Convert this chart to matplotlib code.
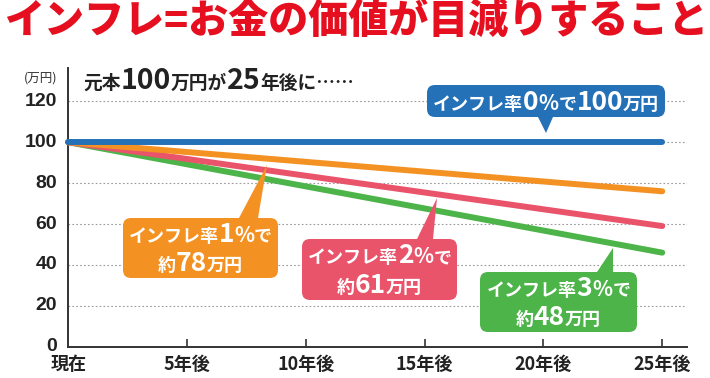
import matplotlib
matplotlib.use("Agg")
import matplotlib.pyplot as plt
from matplotlib.patches import FancyBboxPatch, Polygon
from matplotlib.offsetbox import TextArea, HPacker, VPacker, AnnotationBbox
from matplotlib.transforms import Affine2D, ScaledTranslation

plt.rcParams['font.family'] = ['Noto Sans CJK JP', 'DejaVu Sans']

# data
years = [0, 25]
rate_0 = [100, 100]
rate_1 = [100, 76]
rate_2 = [100, 59]
rate_3 = [100, 46]

xtick_pos = [0, 5, 10, 15, 20, 25]
xtick_labels = ['現在', '5年後', '10年後', '15年後', '20年後', '25年後']
ytick_pos = [0, 20, 40, 60, 80, 100, 120]

title = 'インフレ=お金の価値が目減りすること'

BLUE = '#2571b8'
ORANGE = '#f39223'
RED = '#e9546b'
GREEN = '#4db449'
DARK = '#222222'

W, H = 710, 378
fig = plt.figure(figsize=(W / 100, H / 100), dpi=100)
fig.patch.set_facecolor('white')

# pixel coords measured from the top-left corner
px = Affine2D().scale(1, -1).translate(0, H)

ax = fig.add_axes([68.3 / W, 1 - 346.7 / H, (686.7 - 68.3) / W, (346.7 - 68) / H])
ax.set_xlim(0, 26.03)
ax.set_ylim(0, 136.3)

ax.plot(years, rate_3, color=GREEN, lw=4.3, solid_capstyle='round', zorder=3, clip_on=False)
ax.plot(years, rate_2, color=RED, lw=4.3, solid_capstyle='round', zorder=3, clip_on=False)
ax.plot(years, rate_1, color=ORANGE, lw=4.3, solid_capstyle='round', zorder=3, clip_on=False)
ax.plot(years, rate_0, color=BLUE, lw=4.3, solid_capstyle='round', zorder=4, clip_on=False)

for s in ['top', 'right']:
    ax.spines[s].set_visible(False)
for s in ['left', 'bottom']:
    ax.spines[s].set_color('#333333')
    ax.spines[s].set_linewidth(1.4)

ax.set_xticks(xtick_pos)
ax.set_xticklabels(xtick_labels, fontsize=13, fontweight='bold', color=DARK)
ax.set_yticks(ytick_pos)
ax.set_yticklabels([str(v) for v in ytick_pos], fontsize=14, fontweight='bold', color=DARK,
                   family=['Liberation Sans', 'DejaVu Sans'])
ax.tick_params(axis='x', direction='in', length=5.5, width=1.2, color='#333333', pad=6)
ax.tick_params(axis='y', length=0, pad=8)
ax.xaxis.get_major_ticks()[0].tick1line.set_visible(False)
# lift the y labels a touch, like the original
lift = ScaledTranslation(0, 2 / 100, fig.dpi_scale_trans)
for lab in ax.get_yticklabels():
    lab.set_transform(lab.get_transform() + lift)
ax.yaxis.grid(True, linestyle=(0, (1.5, 2)), color='#9a9a9a', lw=0.8)
ax.set_axisbelow(True)

fig.text(356 / W, 1 - 21 / H, title, ha='center', va='center', fontsize=28.8,
         fontweight='heavy', color='#e50f1f')
fig.text(41 / W, 1 - 78 / H, '(万円)', ha='center', va='center', fontsize=9, color='#333333')


def rich(lines, color, align='center'):
    rows = []
    for parts in lines:
        areas = [TextArea(t, textprops=dict(color=color, fontsize=s, fontweight='bold'))
                 for t, s in parts]
        rows.append(HPacker(children=areas, align='baseline', pad=0, sep=0))
    if len(rows) == 1:
        return rows[0]
    return VPacker(children=rows, align=align, pad=0, sep=2)


def place(box, xy, align):
    ab = AnnotationBbox(box, xy, xycoords=px, box_alignment=align, frameon=False, pad=0,
                        annotation_clip=False, zorder=6)
    fig.add_artist(ab)


place(rich([[('元本', 13.5), ('100', 20.5), ('万円が', 13.5), ('25', 20.5), ('年後に……', 13.5)]], DARK),
      (83, 81), (0, 0.5))


def callout(x0, y0, x1, y1, base, tip, color, lines):
    patch = FancyBboxPatch((x0, y0), x1 - x0, y1 - y0,
                           boxstyle='round,pad=0,rounding_size=8',
                           fc=color, ec='none', zorder=5, transform=px)
    fig.add_artist(patch)
    edge = y1 if tip[1] > y1 else y0
    tri = Polygon([(base[0], edge), (base[1], edge), (tip[0], tip[1])],
                  closed=True, fc=color, ec='none', zorder=5, transform=px)
    fig.add_artist(tri)
    place(rich(lines, 'white'), ((x0 + x1) / 2, (y0 + y1) / 2 + 1), (0.5, 0.5))


callout(427, 85, 665, 117, (538, 553), (546, 133), BLUE,
        [[('インフレ率', 13), ('0', 19), ('%', 15), ('で', 13), ('100', 19), ('万円', 13)]])
callout(123, 218, 278, 278, (239, 258), (267, 165), ORANGE,
        [[('インフレ率', 13), ('1', 19), ('%', 15), ('で', 13)],
         [('約', 13), ('78', 19), ('万円', 13)]])
callout(302, 239, 457, 300, (417, 433), (437, 198), RED,
        [[('インフレ率', 13), ('2', 19), ('%', 15), ('で', 13)],
         [('約', 13), ('61', 19), ('万円', 13)]])
callout(480, 272, 637, 332, (597, 613), (613, 248), GREEN,
        [[('インフレ率', 13), ('3', 19), ('%', 15), ('で', 13)],
         [('約', 13), ('48', 19), ('万円', 13)]])

fig.savefig('out.png', dpi=100)
